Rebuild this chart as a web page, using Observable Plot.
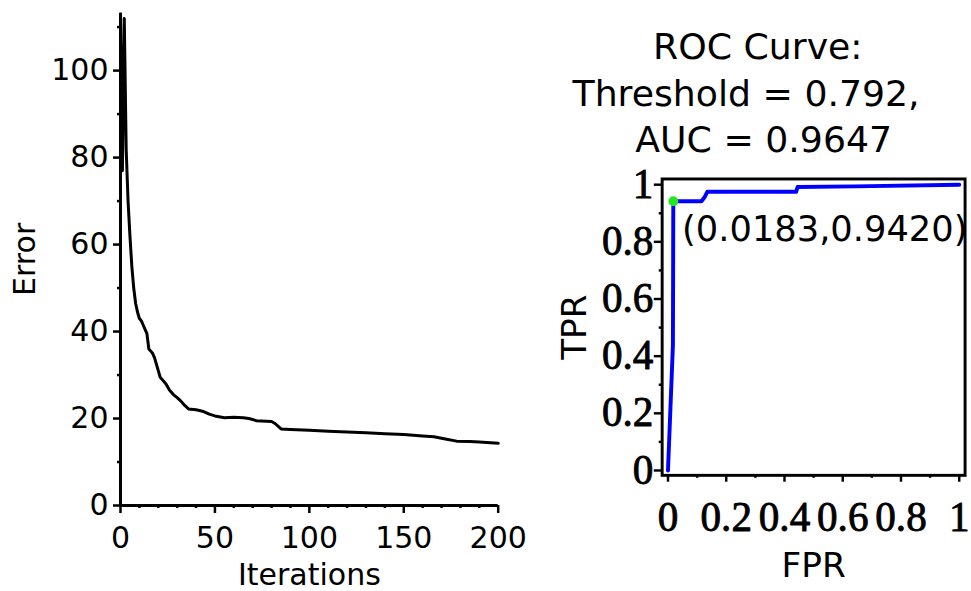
<!DOCTYPE html>
<html><head><meta charset="utf-8">
<script src="https://cdn.jsdelivr.net/npm/d3@7"></script>
<script src="https://cdn.jsdelivr.net/npm/@observablehq/plot@0.6"></script>
<style>
html,body{margin:0;padding:0;background:#fff;overflow:hidden;}
#wrap{position:relative;width:971px;height:591px;overflow:hidden;background:#fff;}
#left{position:absolute;left:0;top:0;}
#right{position:absolute;left:550px;top:0;}
svg{overflow:visible;background:transparent}
</style></head><body><div id="wrap"><div id="left"></div><div id="right"></div></div>
<script>
// ---- Training error curve ----
const iterations = [0,1,2,3,4,5,6,7,8,9,10,11,12,13,14,15,16,17,18,19,20,21,22,24,26,28,30,32,34,36,40,44,47,50,55,60,65,68,72,80,82,85,90,100,110,120,130,140,150,160,166,172,178,185,190,200];
const errorValues = [113,77,112,82,70,62,55,50,46.5,44.5,43,42.5,41.5,40.5,39.5,36,35.5,35,34,32.5,31,29.5,29,28,26.5,25.5,24.8,24,23,22.2,22,21.6,21,20.6,20.2,20.3,20.2,20,19.5,19.3,18.8,17.6,17.5,17.3,17.1,16.9,16.7,16.5,16.3,16,15.8,15.3,14.8,14.7,14.6,14.3];
const errorTicks = [0,20,40,60,80,100];
const errorMinorTicks = [10,30,50,70,90,110];
const iterTicks = [0,50,100,150,200];
const iterMinorTicks = [10,20,30,40,60,70,80,90,110,120,130,140,160,170,180,190];
const errorLabelX = ["Iterations"];
const errorLabelY = ["Error"];

// ---- ROC curve ----
const fpr = [0,0.017,0.0183,0.115,0.125,0.135,0.44,0.445,0.64,1.0];
const tpr = [0,0.44,0.942,0.942,0.955,0.975,0.975,0.992,0.994,1.0];
const opPoint = [{fpr:0.0183, tpr:0.9420}];
const rocTicks = [0,0.2,0.4,0.6,0.8,1];
const rocTickLabels = ["0","0.2","0.4","0.6","0.8","1"];
const rocMinorTicks = [0.1,0.3,0.5,0.7,0.9];
const titleLines = ["ROC Curve:","Threshold = 0.792,","AUC = 0.9647"];
const rocLabelX = ["FPR"];
const rocLabelY = ["TPR"];

const sans = "'DejaVu Sans', Verdana, sans-serif";
const serif = "'Liberation Serif', 'Times New Roman', serif";

const left = Plot.plot({
  width: 520, height: 591,
  marginLeft: 120, marginRight: 22.3, marginTop: 12.7, marginBottom: 86,
  x: {domain: [0, 200]},
  y: {domain: [0, 113.2]},
  style: {fontFamily: sans, fontSize: "30px", color: "black", background: "transparent"},
  marks: [
    Plot.axisY(errorTicks, {tickSize: 7, tickPadding: 5, strokeWidth: 2.5, fontSize: 30, fontFamily: sans, tickFormat: d => String(d), label: null}),
    Plot.axisY(errorMinorTicks, {tickSize: 3, strokeWidth: 2.5, tickFormat: () => "", label: null}),
    Plot.axisX(iterTicks, {tickSize: 8, tickPadding: 13, strokeWidth: 2.5, fontSize: 30, fontFamily: sans, tickFormat: d => String(d), label: null}),
    Plot.axisX(iterMinorTicks, {tickSize: 3, strokeWidth: 2.5, tickFormat: () => "", label: null}),
    Plot.ruleX([0], {strokeWidth: 3}),
    Plot.ruleY([0], {strokeWidth: 3}),
    Plot.line(errorValues, {x: iterations, y: errorValues, stroke: "black", strokeWidth: 3}),
    Plot.text(errorLabelX, {text: d => d, frameAnchor: "bottom", dy: 70, fontSize: 30, fontFamily: sans, lineAnchor: "middle"}),
    Plot.text(errorLabelY, {text: d => d, frameAnchor: "left", dx: -95, rotate: -90, fontSize: 30, fontFamily: sans, textAnchor: "middle", lineAnchor: "middle"})
  ]
});
document.getElementById("left").appendChild(left);

const right = Plot.plot({
  width: 430, height: 591,
  marginLeft: 114.05, marginRight: 6.55, marginTop: 182.3, marginBottom: 106,
  x: {domain: [-0.02, 1.02]},
  y: {domain: [-0.017, 1.02]},
  style: {fontFamily: sans, color: "black", background: "transparent"},
  marks: [
    Plot.axisY(rocTicks, {tickSize: 8, tickPadding: 1, strokeWidth: 2.5, fontSize: 42, fontFamily: serif, textStroke: "black", textStrokeWidth: 0.9, tickFormat: d => rocTickLabels[rocTicks.indexOf(d)], label: null}),
    Plot.axisY(rocMinorTicks, {tickSize: 3, strokeWidth: 2.5, tickFormat: () => "", label: null}),
    Plot.axisX(rocTicks, {tickSize: 7, tickPadding: 20, strokeWidth: 2.5, fontSize: 42, fontFamily: serif, textStroke: "black", textStrokeWidth: 0.9, tickFormat: d => rocTickLabels[rocTicks.indexOf(d)], label: null}),
    Plot.axisX(rocMinorTicks, {tickSize: 3, strokeWidth: 2.5, tickFormat: () => "", label: null}),
    Plot.frame({stroke: "black", strokeWidth: 3}),
    Plot.line(tpr, {x: fpr, y: tpr, stroke: "#0000ff", strokeWidth: 4}),
    Plot.dot(opPoint, {x: "fpr", y: "tpr", r: 5, fill: "#22e622", stroke: "none"}),
    Plot.text(opPoint, {x: "fpr", y: "tpr", text: d => `(${d.fpr.toFixed(4)},${d.tpr.toFixed(4)})`, textAnchor: "start", lineAnchor: "middle", dx: 9, dy: 29, fontSize: 36, fontFamily: sans}),
    Plot.text([titleLines[0]], {text: d => d, frameAnchor: "top", dx: -57, dy: -134, fontSize: 37, fontFamily: sans, lineAnchor: "middle"}),
    Plot.text([titleLines[1]], {text: d => d, frameAnchor: "top", dx: -69, dy: -86, fontSize: 37, fontFamily: sans, lineAnchor: "middle"}),
    Plot.text([titleLines[2]], {text: d => d, frameAnchor: "top", dx: -51, dy: -39, fontSize: 37, fontFamily: sans, lineAnchor: "middle"}),
    Plot.text(rocLabelX, {text: d => d, frameAnchor: "bottom", dy: 93, fontSize: 35, fontFamily: sans, lineAnchor: "middle"}),
    Plot.text(rocLabelY, {text: d => d, frameAnchor: "left", dx: -89, rotate: -90, fontSize: 35, fontFamily: sans, textAnchor: "middle", lineAnchor: "middle"})
  ]
});
document.getElementById("right").appendChild(right);
</script>
</body></html>
